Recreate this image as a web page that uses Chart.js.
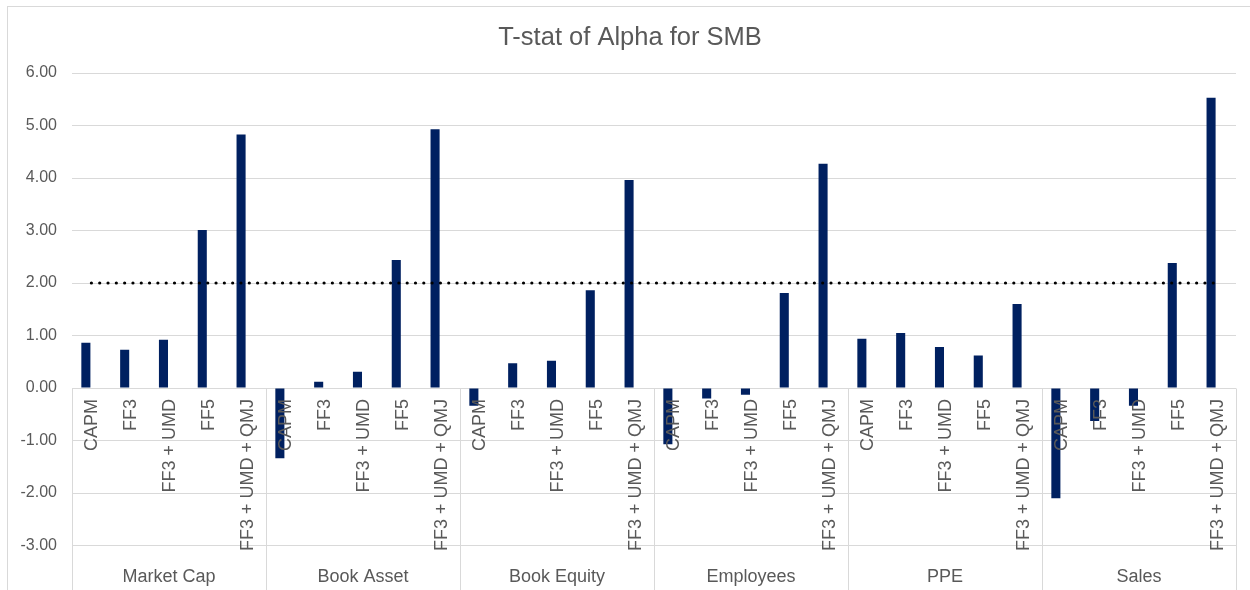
<!DOCTYPE html>
<html>
<head>
<meta charset="utf-8">
<script src="https://cdn.jsdelivr.net/npm/chart.js@4.4.1/dist/chart.umd.min.js"></script>
<style>
    html, body { margin: 0; padding: 0; background: #ffffff; }
    #wrap { width: 1250px; height: 590px; position: relative; }
</style>
</head>
<body>
<div id="wrap"><canvas id="chart"></canvas></div>
<script>
// Data
var groups = ['Market Cap', 'Book Asset', 'Book Equity', 'Employees', 'PPE', 'Sales'];
var models = ['CAPM', 'FF3', 'FF3 + UMD', 'FF5', 'FF3 + UMD + QMJ'];

var marketCap  = [0.86, 0.73, 0.92, 3.01, 4.83];
var bookAsset  = [-1.34, 0.12, 0.31, 2.44, 4.93];
var bookEquity = [-0.34, 0.47, 0.52, 1.86, 3.96];
var employees  = [-1.07, -0.20, -0.13, 1.81, 4.27];
var ppe        = [0.94, 1.05, 0.78, 0.62, 1.60];
var sales      = [-2.10, -0.63, -0.34, 2.38, 5.53];

var threshold = 2.0;
var yTicks = [-3, -2, -1, 0, 1, 2, 3, 4, 5, 6];

var TEXT = '#595959';
var GRID = '#d9d9d9';
var FONT = "'Liberation Sans', Arial, sans-serif";

// flatten into one category per (group, model)
var seriesByGroup = [marketCap, bookAsset, bookEquity, employees, ppe, sales];
var labels = [];
var values = [];
for (var g = 0; g < groups.length; g++) {
    for (var m = 0; m < models.length; m++) {
        labels.push(models[m]);
        values.push(seriesByGroup[g][m]);
    }
}
var lineValues = labels.map(function () { return threshold; });
var spacer = labels.map(function () { return null; });

// Excel style multi-level category axis, drawn at the zero crossing
var categoryAxis = {
    id: 'categoryAxis',
    beforeDraw: function (chart) {
        var ctx = chart.ctx;
        ctx.save();
        ctx.strokeStyle = GRID;
        ctx.lineWidth = 1;
        ctx.strokeRect(7.5, 6.5, chart.width + 10, chart.height + 10);
        ctx.restore();
    },
    beforeDatasetsDraw: function (chart) {
        var ctx = chart.ctx;
        var x = chart.scales.x;
        var y = chart.scales.y;
        var area = chart.chartArea;
        var y0 = Math.round(y.getPixelForValue(0)) + 0.5;
        var bottom = chart.height;

        ctx.save();
        ctx.strokeStyle = GRID;
        ctx.lineWidth = 1;
        ctx.beginPath();
        ctx.moveTo(area.left, y0);
        ctx.lineTo(area.right, y0);
        var edges = [area.left, area.right];
        for (var i = models.length; i < labels.length; i += models.length) {
            edges.push((x.getPixelForValue(i - 1) + x.getPixelForValue(i)) / 2);
        }
        edges.forEach(function (ex) {
            var px = Math.round(ex) + 0.5;
            ctx.moveTo(px, y0);
            ctx.lineTo(px, bottom);
        });
        ctx.stroke();
        ctx.restore();
    },
    afterDatasetsDraw: function (chart) {
        var ctx = chart.ctx;
        var x = chart.scales.x;
        var y = chart.scales.y;
        var y0 = y.getPixelForValue(0);

        ctx.save();
        ctx.fillStyle = TEXT;
        ctx.font = '18px ' + FONT;
        ctx.textAlign = 'right';
        ctx.textBaseline = 'middle';
        for (var i = 0; i < labels.length; i++) {
            ctx.save();
            ctx.translate(x.getPixelForValue(i), y0 + 11);
            ctx.rotate(-Math.PI / 2);
            ctx.fillText(labels[i], 0, 1);
            ctx.restore();
        }

        ctx.font = '18px ' + FONT;
        ctx.textAlign = 'center';
        for (var g = 0; g < groups.length; g++) {
            var first = x.getPixelForValue(g * models.length);
            var last = x.getPixelForValue(g * models.length + models.length - 1);
            ctx.fillText(groups[g], (first + last) / 2, 577);
        }
        ctx.restore();
    }
};

new Chart(document.getElementById('chart'), {
    data: {
        labels: labels,
        datasets: [{
            type: 'line',
            label: 'Threshold',
            data: lineValues,
            borderColor: '#000000',
            borderWidth: 3.2,
            borderDash: [0.01, 8.3],
            borderCapStyle: 'round',
            pointRadius: 0,
            fill: false,
            order: 0
        }, {
            type: 'bar',
            label: 'T-stat',
            data: values,
            backgroundColor: '#002060',
            borderWidth: 0,
            categoryPercentage: 0.57,
            barPercentage: 0.82,
            order: 1
        }, {
            type: 'bar',
            label: '',
            data: spacer,
            backgroundColor: 'rgba(0,0,0,0)',
            categoryPercentage: 0.57,
            barPercentage: 0.82,
            order: 2
        }]
    },
    options: {
        responsive: true,
        maintainAspectRatio: false,
        animation: false,
        layout: { padding: { left: 10, right: 0, top: 0, bottom: 44.5 } },
        plugins: {
            legend: { display: false },
            tooltip: { enabled: false },
            title: {
                display: true,
                text: 'T-stat of Alpha for SMB',
                color: TEXT,
                font: { family: FONT, size: 25.5, weight: 'normal', lineHeight: 1.2 },
                padding: { top: 23, bottom: 19.4 }
            }
        },
        scales: {
            x: {
                display: false,
                offset: true
            },
            y: {
                min: -3,
                max: 6,
                afterFit: function (scale) { scale.width = 62; },
                afterBuildTicks: function (scale) {
                    scale.ticks = yTicks.map(function (v) { return { value: v }; });
                },
                border: { display: false },
                grid: { color: GRID, drawTicks: false },
                ticks: {
                    color: TEXT,
                    padding: 15,
                    font: { family: FONT, size: 16 },
                    callback: function (v) { return Number(v).toFixed(2); }
                }
            },
            // empty right margin so the title centres like the reference
            yRight: {
                position: 'right',
                min: -3,
                max: 6,
                afterFit: function (scale) { scale.width = 14; },
                border: { display: false },
                grid: { display: false },
                ticks: { display: false }
            }
        }
    },
    plugins: [categoryAxis]
});
</script>
</body>
</html>
